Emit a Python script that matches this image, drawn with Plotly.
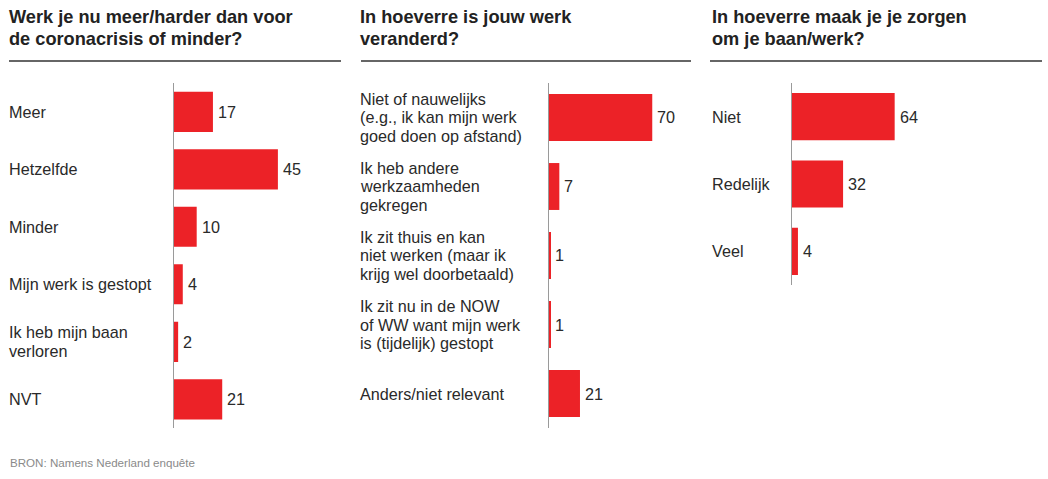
import plotly.graph_objects as go

W, H = 1048, 479

# --- data ---
q1_title = "Werk je nu meer/harder dan voor<br>de coronacrisis of minder?"
q1_cats = ["Meer", "Hetzelfde", "Minder", "Mijn werk is gestopt",
           "Ik heb mijn baan<br>verloren", "NVT"]
q1_vals = [17, 45, 10, 4, 2, 21]

q2_title = "In hoeverre is jouw werk<br>veranderd?"
q2_cats = ["Niet of nauwelijks<br>(e.g., ik kan mijn werk<br>goed doen op afstand)",
           "Ik heb andere<br>werkzaamheden<br>gekregen",
           "Ik zit thuis en kan<br>niet werken (maar ik<br>krijg wel doorbetaald)",
           "Ik zit nu in de NOW<br>of WW want mijn werk<br>is (tijdelijk) gestopt",
           "Anders/niet relevant"]
q2_vals = [70, 7, 1, 1, 21]

q3_title = "In hoeverre maak je je zorgen<br>om je baan/werk?"
q3_cats = ["Niet", "Redelijk", "Veel"]
q3_vals = [64, 32, 4]

source = "BRON: Namens Nederland enquête"

# --- styling / layout (pixel geometry) ---
RED = "#EC2227"
TXT = "#2a2a2a"
FONT = "Liberation Sans, Arial, Helvetica, sans-serif"
LABEL_SIZE = 16.2
LABEL_LH = 18.8      # line pitch of wrapped category labels, px
VALUE_SIZE = 16.2
TITLE_SIZE = 18.2
TITLE_LINES_Y = [17.3, 39.3]   # vertical centres of the two title lines, px

panels = [
    dict(title=q1_title, cats=q1_cats, vals=q1_vals, tx=9, r0=9, r1=341,
         ax=173.5, right=341, ppu=2.32, ytop=83, ybot=428, bw=0.70),
    dict(title=q2_title, cats=q2_cats, vals=q2_vals, tx=360, r0=361, r1=691,
         ax=549, right=691, ppu=1.475, ytop=83, ybot=428, bw=0.68),
    dict(title=q3_title, cats=q3_cats, vals=q3_vals, tx=712, r0=710, r1=1042,
         ax=791.5, right=1042, ppu=1.612, ytop=83, ybot=285, bw=0.70),
]

def px_x(p):
    return p / W

def px_y(p):
    return 1 - p / H

fig = go.Figure()
annotations = []
shapes = []

for i, p in enumerate(panels, start=1):
    xa = "x" if i == 1 else f"x{i}"
    ya = "y" if i == 1 else f"y{i}"
    xkey = "xaxis" if i == 1 else f"xaxis{i}"
    ykey = "yaxis" if i == 1 else f"yaxis{i}"

    fig.add_trace(go.Bar(
        x=p["vals"], y=p["cats"], orientation="h",
        marker=dict(color=RED, line=dict(width=0)),
        width=p["bw"], xaxis=xa, yaxis=ya,
        hoverinfo="x", showlegend=False,
    ))

    width_px = p["right"] - p["ax"]
    fig.update_layout({
        xkey: dict(domain=[px_x(p["ax"]), px_x(p["right"])],
                   range=[0, width_px / p["ppu"]], visible=False,
                   anchor=ya, fixedrange=True),
        ykey: dict(domain=[px_y(p["ybot"]), px_y(p["ytop"])],
                   type="category", categoryorder="array",
                   categoryarray=p["cats"],
                   range=[len(p["cats"]) - 0.5, -0.5],
                   showticklabels=False, showgrid=False, zeroline=False,
                   ticks="", showline=True, linecolor="#9a9a9a",
                   linewidth=1, anchor=xa, fixedrange=True),
    })

    # panel title, one annotation per line
    for k, line in enumerate(p["title"].split("<br>")):
        annotations.append(dict(
            text=f"<b>{line}</b>", xref="paper", yref="paper",
            x=px_x(p["tx"] - 2), y=px_y(TITLE_LINES_Y[k]),
            xanchor="left", yanchor="middle", showarrow=False,
            font=dict(family=FONT, size=TITLE_SIZE, color="#222222"),
        ))
    # rule under title
    shapes.append(dict(type="line", xref="paper", yref="paper",
                       x0=px_x(p["r0"]), x1=px_x(p["r1"]),
                       y0=px_y(61), y1=px_y(61),
                       line=dict(color="#333333", width=1.5)))

    # category labels, left aligned, wrapped lines centred on the bar
    for c in p["cats"]:
        lines = c.split("<br>")
        n = len(lines)
        for k, line in enumerate(lines):
            annotations.append(dict(
                text=line, xref="paper", yref=ya, x=px_x(p["tx"] - 2), y=c,
                xanchor="left", yanchor="middle", showarrow=False,
                yshift=((n - 1) / 2 - k) * LABEL_LH,
                font=dict(family=FONT, size=LABEL_SIZE, color=TXT),
            ))
    # value labels at bar ends
    for c, v in zip(p["cats"], p["vals"]):
        annotations.append(dict(
            text=str(v), xref=xa, yref=ya, x=v, y=c,
            xanchor="left", yanchor="middle", xshift=3, showarrow=False,
            font=dict(family=FONT, size=VALUE_SIZE, color=TXT),
        ))

annotations.append(dict(
    text=source, xref="paper", yref="paper", x=px_x(7.5), y=px_y(462),
    xanchor="left", yanchor="middle", showarrow=False,
    font=dict(family=FONT, size=11.6, color="#8a8a8a"),
))

fig.update_layout(
    width=W, height=H,
    margin=dict(l=0, r=0, t=0, b=0),
    paper_bgcolor="white", plot_bgcolor="white",
    annotations=annotations, shapes=shapes,
    font=dict(family=FONT),
)

fig.write_html("out.html", config={"displayModeBar": False})
